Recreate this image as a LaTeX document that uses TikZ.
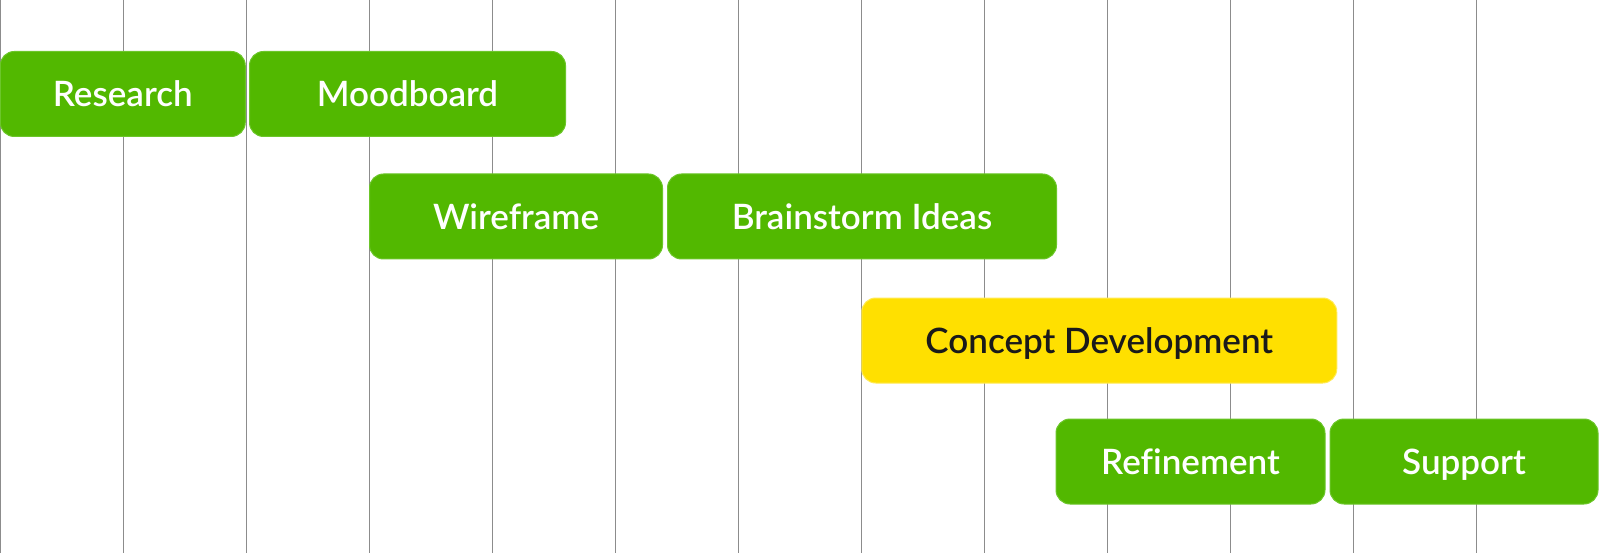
\documentclass[tikz,border=0pt]{standalone}
\usepackage{fontspec}
\setmainfont{Lato}[Ligatures=NoCommon, BoldFont={Lato Semibold}]
\definecolor{bargreen}{HTML}{52B800}
\definecolor{bargreenedge}{HTML}{6CC62A}
\definecolor{baryellow}{HTML}{FFE000}
\definecolor{baryellowedge}{HTML}{FFEA55}
\definecolor{gridgray}{HTML}{8C8C8C}
\definecolor{darktext}{HTML}{1A1A1A}
\tikzset{
  ganttbox/.style={rounded corners=14pt, minimum height=85pt, inner sep=0pt, text height=25.2pt, text depth=0pt, line width=1pt, font=\fontsize{35}{40}\selectfont\bfseries},
  greenbar/.style={ganttbox, fill=bargreen, draw=bargreenedge, text=white},
  yellowbar/.style={ganttbox, fill=baryellow, draw=baryellowedge, text=darktext},
  gridline/.style={draw=gridgray, line width=1pt}
}
\begin{document}
\begin{tikzpicture}[x=1pt,y=-1pt]
\useasboundingbox[fill=white] (0,0) rectangle (1600,553);
\foreach \k in {0,...,13} {
  \coordinate (gt\k) at ({\k*123.077},0);
  \coordinate (gb\k) at ({\k*123.077},553);
  \draw[gridline] (gt\k) -- (gb\k);
}
\node[greenbar, minimum width=245pt] (research) at (122.75,94) {Research};
\node[greenbar, minimum width=316pt] (moodboard) at (407.5,94) {Moodboard};
\node[greenbar, minimum width=293pt] (wireframe) at (516,216.5) {Wireframe};
\node[greenbar, minimum width=389pt] (brainstorm) at (862,216.5) {Brainstorm Ideas};
\node[yellowbar, minimum width=475pt] (concept) at (1099.25,340.5) {Concept Development};
\node[greenbar, minimum width=269pt] (refinement) at (1190.5,461.5) {Refinement};
\node[greenbar, minimum width=268pt] (support) at (1464,461.5) {Support};
\end{tikzpicture}
\end{document}
